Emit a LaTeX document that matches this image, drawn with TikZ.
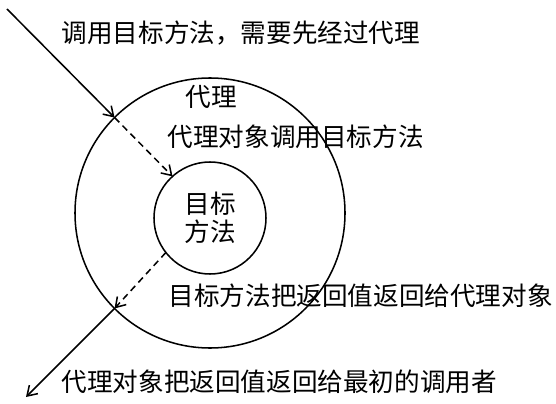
\documentclass[tikz,border=0pt]{standalone}
\usepackage{fontspec}
\setmainfont{Noto Sans CJK SC}
\usetikzlibrary{arrows.meta}

\begin{document}
\begin{tikzpicture}[x=0.75pt,y=0.75pt,yscale=-1,xscale=1,
    line width=1.15pt, >={Straight Barb[length=7pt,width=9pt]},
    ring/.style={draw, circle, inner sep=0pt, outer sep=0pt},
    msg/.style={anchor=west, inner sep=0.75pt, font=\fontsize{19.2}{21}\selectfont},
    call/.style={->, dash pattern=on 5pt off 3.5pt}]
    \useasboundingbox (0,0) rectangle (556,403);
    
    %Shape: Circle [id:proxy]
    \node [ring, minimum size=202.5pt] (proxy) at (210,213) {};
    %Shape: Circle [id:target]
    \node [ring, minimum size=84pt, align=center, font=\fontsize{19.2}{21}\selectfont] (target) at (210,218) {目标\\方法};
    
    \coordinate (caller) at (7,9);
    \coordinate (result) at (26,397);
    
    %Straight Lines
    \draw [->] (caller) -- (proxy.135);
    \draw [call] (proxy.135) -- (target.132);
    \draw [call] (target.218) -- (proxy.225);
    \draw [->] (proxy.225) -- (result);
    
    % Text Node
    \node [msg] (ask) at (60,33) {调用目标方法，需要先经过代理};
    % Text Node
    \node [msg] (name) at (184,97) {代理};
    % Text Node
    \node [msg] (invoke) at (166,137) {代理对象调用目标方法};
    % Text Node
    \node [msg] (back) at (167,296) {目标方法把返回值返回给代理对象};
    % Text Node
    \node [msg] (reply) at (60,382) {代理对象把返回值返回给最初的调用者};
    
\end{tikzpicture}
\end{document}
